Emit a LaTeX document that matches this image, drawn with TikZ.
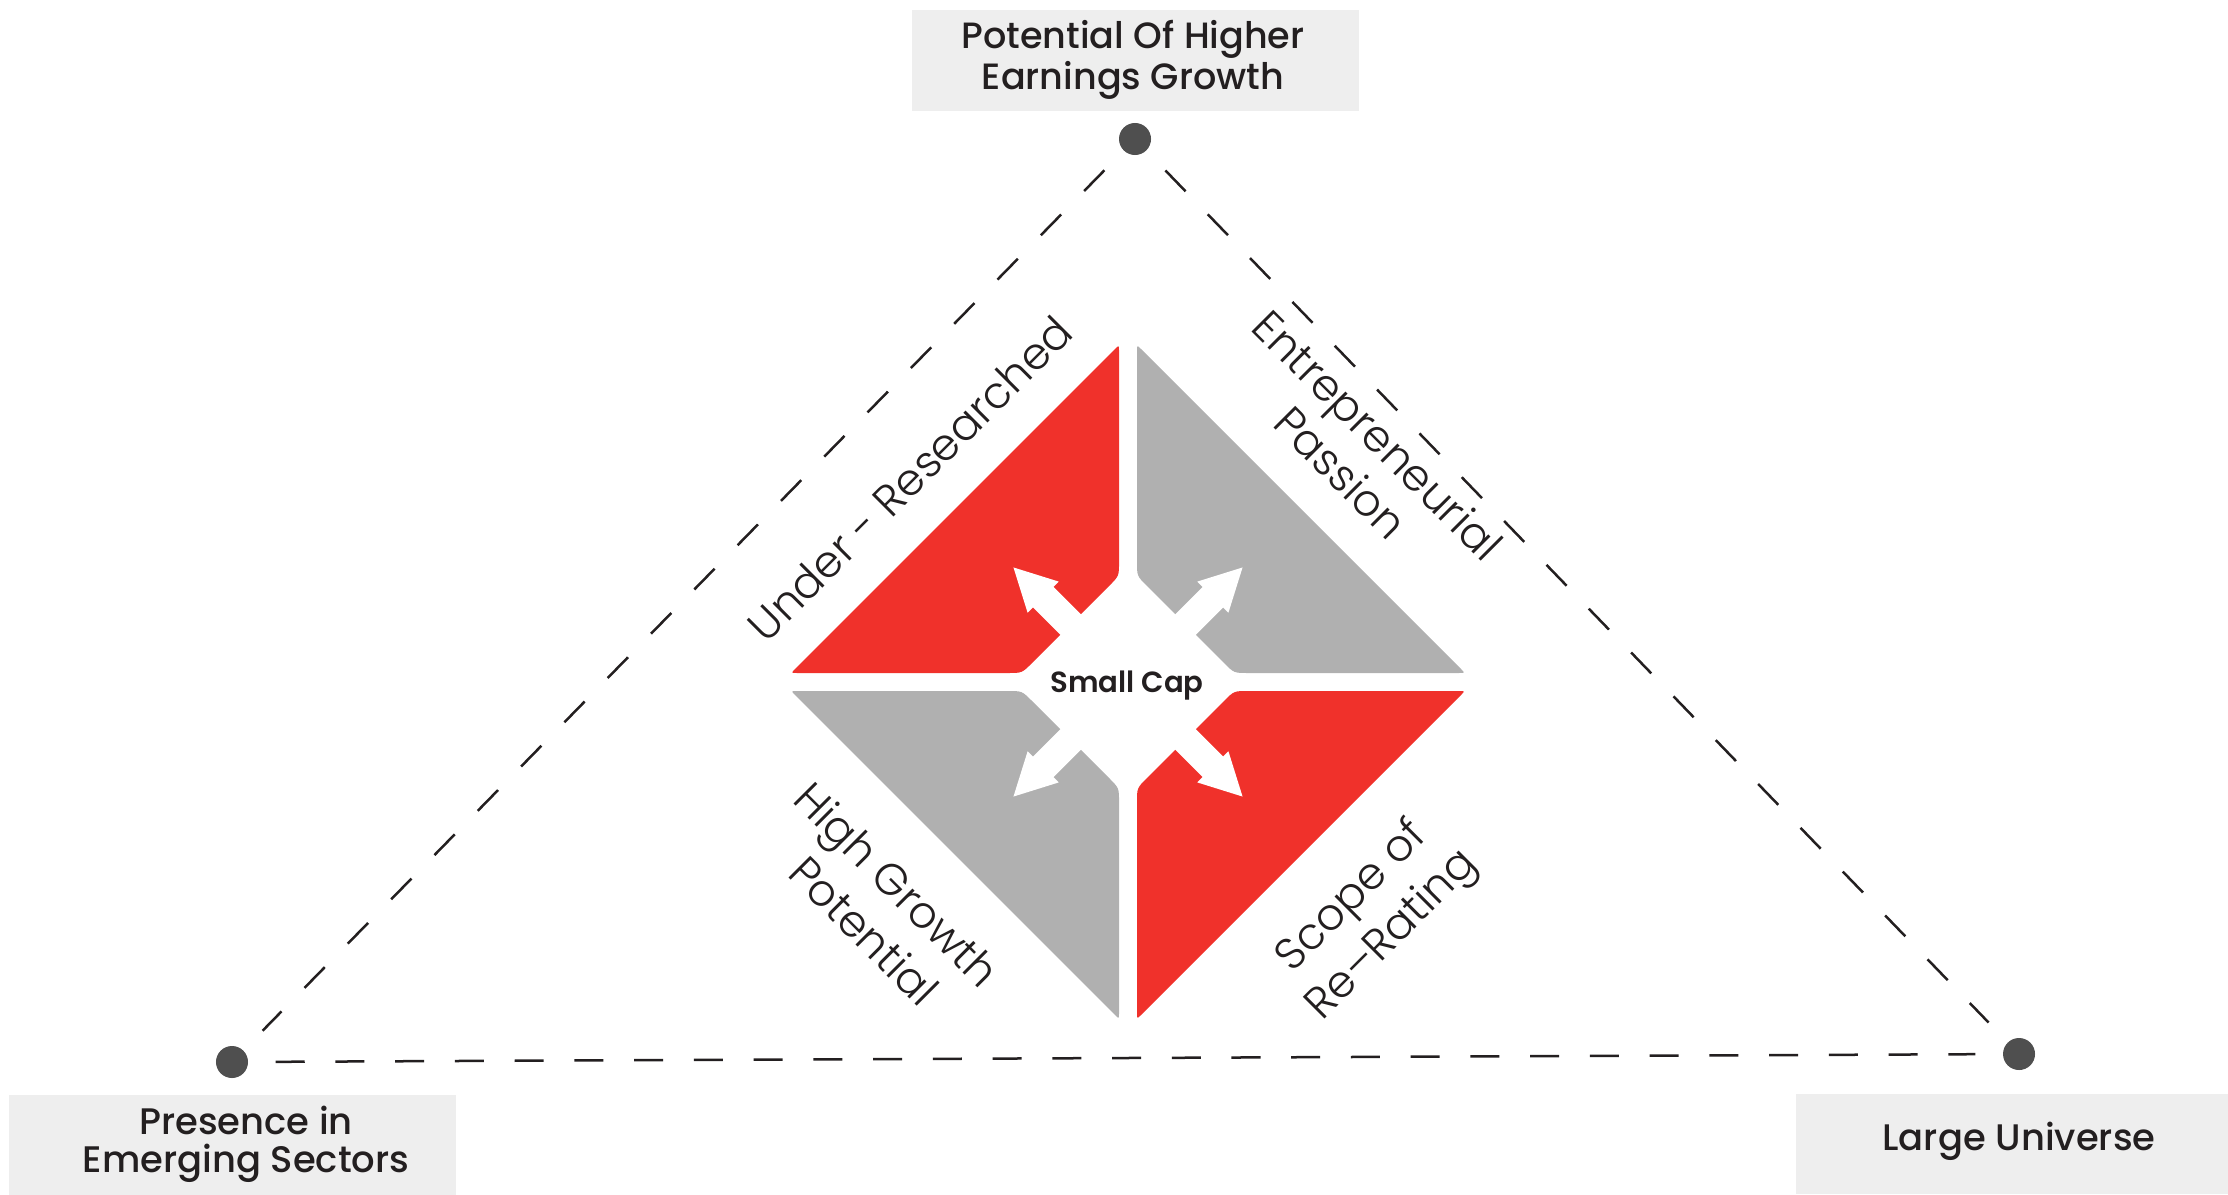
\documentclass[tikz,border=0pt]{standalone}
\usepackage{fontspec}
\setmainfont{Poppins}
\newfontfamily\poplight{Poppins Light}
\newfontfamily\popmed{Poppins Medium}
\newfontfamily\popsemi{Poppins SemiBold}

\definecolor{quadred}{HTML}{F0312B}
\definecolor{quadgray}{HTML}{B0B0B0}
\definecolor{boxfill}{HTML}{EEEEEE}
\definecolor{dotgray}{HTML}{4F4F4F}
\definecolor{ink}{HTML}{231F20}

\begin{document}
\begin{tikzpicture}[x=0.01cm,y=-0.01cm,
  labelbox/.style={fill=boxfill, draw=none, inner sep=0pt},
  boxtext/.style={text=ink, align=center, inner sep=0pt},
  dot/.style={circle, fill=dotgray, draw=none, minimum size=0.32cm, inner sep=0pt},
  dashline/.style={draw=ink, line width=0.025cm,
                   shorten <=0.27cm, shorten >=0.27cm},
  sidelabel/.style={text=ink, inner sep=0pt, anchor=base,
                    font=\poplight\fontsize{12.5}{15}\selectfont},
  quadrant/.pic={
    \path[pic actions] (-9,-331) -- (-9,-120) .. controls (-9,-106) .. (-18.9,-96.1)
      -- (-96.1,-18.9) .. controls (-106,-9) .. (-120,-9)
      -- (-331,-9) .. controls (-337,-9) .. (-332.8,-13.2)
      -- (-13.2,-332.8) .. controls (-9,-337) .. (-9,-331) -- cycle;
  },
  outarrow/.pic={
    \path[fill=white] (0,14.5) -- (120,14.5) -- (120,22) -- (162,0)
      -- (120,-22) -- (120,-14.5) -- (0,-14.5) -- cycle;
  }]
\useasboundingbox (0,0) rectangle (2228,1194);

% label boxes at the three corners
\node[labelbox, minimum width=4.47cm, minimum height=1.01cm] (boxtop) at (1135.5,60.5) {};
\node[labelbox, minimum width=4.47cm, minimum height=1.00cm] (boxleft) at (232.5,1145) {};
\node[labelbox, minimum width=4.32cm, minimum height=1.00cm] (boxright) at (2012,1144) {};

\node[boxtext, font=\popmed\fontsize{10.4}{11.6}\selectfont] (txttop) at (1133,60)
  {Potential Of Higher\\Earnings Growth};
\node[boxtext, font=\popmed\fontsize{10.5}{10.8}\selectfont] (txtleft) at (246,1144)
  {Presence in\\Emerging Sectors};
\node[boxtext, font=\popmed\fontsize{10.5}{12}\selectfont] (txtright) at (2019,1141)
  {Large Universe};

% corner dots and the dashed triangle
\node[dot] (ptop) at (1135,139) {};
\node[dot] (pleft) at (232,1062) {};
\node[dot] (pright) at (2019,1054) {};
\draw[dashline, dash pattern=on 0.29cm off 0.329cm] (ptop) -- (pleft);
\draw[dashline, dash pattern=on 0.29cm off 0.319cm] (ptop) -- (pright);
\draw[dashline, dash pattern=on 0.29cm off 0.307cm] (pleft) -- (pright);

% four quadrants around the centre
\pic[fill=quadred] (qtl) at (1128,682) {quadrant};
\pic[fill=quadgray, xscale=-1] (qtr) at (1128,682) {quadrant};
\pic[fill=quadgray, yscale=-1] (qbl) at (1128,682) {quadrant};
\pic[fill=quadred, xscale=-1, yscale=-1] (qbr) at (1128,682) {quadrant};

% outward arrows
\pic[rotate=135] (atl) at (1128,682) {outarrow};
\pic[rotate=45] (atr) at (1128,682) {outarrow};
\pic[rotate=225] (abl) at (1128,682) {outarrow};
\pic[rotate=-45] (abr) at (1128,682) {outarrow};

\node[text=ink, inner sep=0pt, anchor=base, font=\popsemi\fontsize{8.3}{10}\selectfont]
  (centre) at (1127,692) {Small Cap};

% quadrant labels
\node[sidelabel, rotate=45] (under) at (921,490) {Under - Researched};
\node[sidelabel, rotate=-45] (entre1) at (1366.5,446.5) {Entrepreneurial};
\node[sidelabel, rotate=-45] (entre2) at (1329.5,483.5) {Passion};
\node[sidelabel, rotate=-45] (high1) at (886,896) {High Growth};
\node[sidelabel, rotate=-45] (high2) at (853,942) {Potential};
\node[sidelabel, rotate=45] (scope1) at (1360.5,905.5) {Scope of};
\node[sidelabel, rotate=45] (scope2) at (1400.5,943.5) {Re–Rating};
\end{tikzpicture}
\end{document}
